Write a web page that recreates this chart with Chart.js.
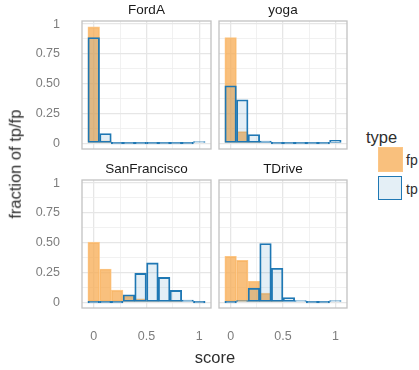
<!DOCTYPE html>
<html>
<head>
<meta charset="utf-8">
<script src="https://cdn.jsdelivr.net/npm/chart.js@4/dist/chart.umd.min.js"></script>
<style>
  html, body { margin: 0; padding: 0; background: #ffffff; }
  body { width: 419px; height: 370px; position: relative; overflow: hidden;
         font-family: "Liberation Sans", Arial, sans-serif; }
  .box { position: absolute; }
  .txt { position: absolute; color: #2e2e2e; white-space: nowrap; line-height: 1; font-weight: 400; }
  canvas { display: block; }
</style>
</head>
<body>
<div class="box" style="left:0px;top:0px"><canvas id="pFordA" width="213" height="151"></canvas></div>
<div class="box" style="left:217px;top:0px"><canvas id="pYoga" width="132" height="151"></canvas></div>
<div class="box" style="left:0px;top:159px"><canvas id="pSF" width="213" height="191"></canvas></div>
<div class="box" style="left:217px;top:159px"><canvas id="pTD" width="132" height="191"></canvas></div>

<div class="txt" id="yTitle" style="left:-85px;top:156px;width:200px;text-align:center;font-size:16.5px;transform:rotate(-90deg)">fraction of tp/fp</div>
<div class="txt" style="left:165px;top:349px;width:100px;text-align:center;font-size:16.5px">score</div>
<div id="legend"></div>

<script>
// bin centres of the score histogram (10 bins over 0..1)
const scoreBins = [0, 0.111, 0.222, 0.333, 0.444, 0.556, 0.667, 0.778, 0.889, 1];

// fraction of false positives / true positives per score bin
const fordA_fp = [0.977, 0.020, 0, 0, 0, 0, 0, 0, 0, 0];
const fordA_tp = [0.888, 0.081, 0, 0, 0, 0, 0, 0, 0, 0.011];
const yoga_fp  = [0.888, 0.098, 0.010, 0, 0, 0, 0, 0, 0, 0];
const yoga_tp  = [0.482, 0.364, 0.073, 0.018, 0, 0, 0, 0, 0, 0.025];
const sf_fp    = [0.504, 0.279, 0.101, 0.052, 0.028, 0.010, 0.005, 0.004, 0, 0];
const sf_tp    = [0, 0, 0, 0.062, 0.242, 0.330, 0.208, 0.099, 0.017, 0];
const td_fp    = [0.386, 0.352, 0.175, 0.076, 0.011, 0, 0, 0, 0, 0];
const td_tp    = [0, 0.011, 0.118, 0.493, 0.285, 0.039, 0.008, 0, 0, 0.006];

// axis breaks and labels
const xBreaks = [0, 0.5, 1];
const xBreakLabels = ['0', '0.5', '1'];
const xMinorBreaks = [0.25, 0.75];
const yBreaks = [0, 0.25, 0.5, 0.75, 1];
const yBreakLabels = ['0', '0.25', '0.50', '0.75', '1'];
const yMinorBreaks = [0.125, 0.375, 0.625, 0.875];
const xLimits = [-0.111, 1.111];
const yLimits = [-0.049, 1.026];

const legendKeys = ['fp', 'tp'];

const FONT = '"Liberation Sans", Arial, sans-serif';
const FP_FILL = 'rgba(247,171,82,0.75)';
const FP_LINE = 'rgba(252,198,134,1)';
const TP_FILL = 'rgba(31,120,180,0.12)';
const TP_LINE = '#1F78B4';
const GRID_MAJOR = '#E6E6E6';
const GRID_MINOR = '#EEEEEE';
const TICK_COLOR = '#7d7d7d';

const near = (a, b) => Math.abs(a - b) < 1e-9;
const labelFor = (v, breaks, labels) => {
  const i = breaks.findIndex(b => near(b, v));
  return i < 0 ? '' : labels[i];
};

// grey rectangle around every facet
const panelBorder = {
  id: 'panelBorder',
  afterDatasetsDraw(chart) {
    const { ctx, chartArea: a } = chart;
    ctx.save();
    ctx.strokeStyle = '#C2C2C2';
    ctx.lineWidth = 1.3;
    ctx.strokeRect(a.left, a.top, a.right - a.left, a.bottom - a.top);
    ctx.restore();
  }
};

function facet(canvasId, name, fp, tp, showY, showX) {
  const xGrid = [...xBreaks, ...xMinorBreaks].sort((a, b) => a - b);
  const yGrid = [...yBreaks, ...yMinorBreaks].sort((a, b) => a - b);
  const isMajor = (breaks, v) => breaks.some(b => near(b, v));
  return new Chart(document.getElementById(canvasId), {
    type: 'bar',
    data: {
      datasets: [
        // tp on top; empty bins still show their outline along the baseline
        { label: 'tp', order: 0, data: scoreBins.map((x, i) => ({ x, y: tp[i] })),
          backgroundColor: TP_FILL, borderColor: TP_LINE, borderWidth: 1.25, minBarLength: 1.5 },
        { label: 'fp', order: 1, data: scoreBins.map((x, i) => ({ x, y: fp[i] })),
          backgroundColor: FP_FILL, borderColor: FP_LINE, borderWidth: 1.1, minBarLength: 0 }
      ]
    },
    options: {
      responsive: false,
      animation: false,
      layout: { padding: { left: showY ? 0 : 2, right: 2, top: 0, bottom: showX ? 0 : 2 } },
      datasets: { bar: { grouped: false, barPercentage: 1, categoryPercentage: 1,
                         borderSkipped: false, inflateAmount: 0.3 } },
      plugins: {
        legend: { display: false },
        tooltip: { enabled: false },
        title: { display: true, fullSize: false, text: name, color: '#1a1a1a',
                 font: { family: FONT, size: 13.5, weight: 'normal', lineHeight: '16px' },
                 padding: { top: 2, bottom: 3 } }
      },
      scales: {
        x: {
          type: 'linear', min: xLimits[0], max: xLimits[1], offset: false,
          afterBuildTicks: s => { s.ticks = xGrid.map(v => ({ value: v })); },
          afterFit: s => { s.height = showX ? 42 : 0; s.paddingLeft = 0; s.paddingRight = 0; },
          border: { display: false },
          grid: { offset: false, drawTicks: false,
                  color: c => isMajor(xBreaks, c.tick.value) ? GRID_MAJOR : GRID_MINOR,
                  lineWidth: c => isMajor(xBreaks, c.tick.value) ? 1.3 : 0.8 },
          ticks: { display: showX, autoSkip: false, maxRotation: 0, padding: 21, color: TICK_COLOR,
                   font: { family: FONT, size: 12.5 },
                   callback: v => labelFor(v, xBreaks, xBreakLabels) }
        },
        y: {
          type: 'linear', min: yLimits[0], max: yLimits[1],
          afterBuildTicks: s => { s.ticks = yGrid.map(v => ({ value: v })); },
          afterFit: s => { s.width = showY ? 82 : 0; s.paddingTop = 0; s.paddingBottom = 0; },
          border: { display: false },
          grid: { drawTicks: false,
                  color: c => isMajor(yBreaks, c.tick.value) ? GRID_MAJOR : GRID_MINOR,
                  lineWidth: c => isMajor(yBreaks, c.tick.value) ? 1.3 : 0.8 },
          ticks: { display: showY, autoSkip: false, padding: 22, color: TICK_COLOR,
                   font: { family: FONT, size: 12.5 },
                   callback: v => labelFor(v, yBreaks, yBreakLabels) }
        }
      }
    },
    plugins: [panelBorder]
  });
}

facet('pFordA', 'FordA', fordA_fp, fordA_tp, true, false);
facet('pYoga', 'yoga', yoga_fp, yoga_tp, false, false);
facet('pSF', 'SanFrancisco', sf_fp, sf_tp, true, true);
facet('pTD', 'TDrive', td_fp, td_tp, false, true);

// legend: "type" with fp / tp keys
(function buildLegend() {
  const root = document.getElementById('legend');
  const title = document.createElement('div');
  title.className = 'txt';
  title.style.cssText = 'left:366px;top:129px;font-size:16.5px';
  title.textContent = 'type';
  root.appendChild(title);
  const styles = { fp: [FP_FILL, FP_LINE, 1], tp: [TP_FILL, TP_LINE, 1.5] };
  legendKeys.forEach((k, i) => {
    const top = 147 + i * 28.5;
    const key = document.createElement('div');
    const [fill, line, w] = styles[k];
    key.style.cssText = `position:absolute;left:378px;top:${top}px;width:${25 - 2 * w}px;height:${25 - 2 * w}px;` +
      `background:${fill};border:${w}px solid ${line};`;
    root.appendChild(key);
    const lab = document.createElement('div');
    lab.className = 'txt';
    lab.style.cssText = `left:406px;top:${top + 6}px;font-size:14px`;
    lab.textContent = k;
    root.appendChild(lab);
  });
})();
</script>
</body>
</html>
